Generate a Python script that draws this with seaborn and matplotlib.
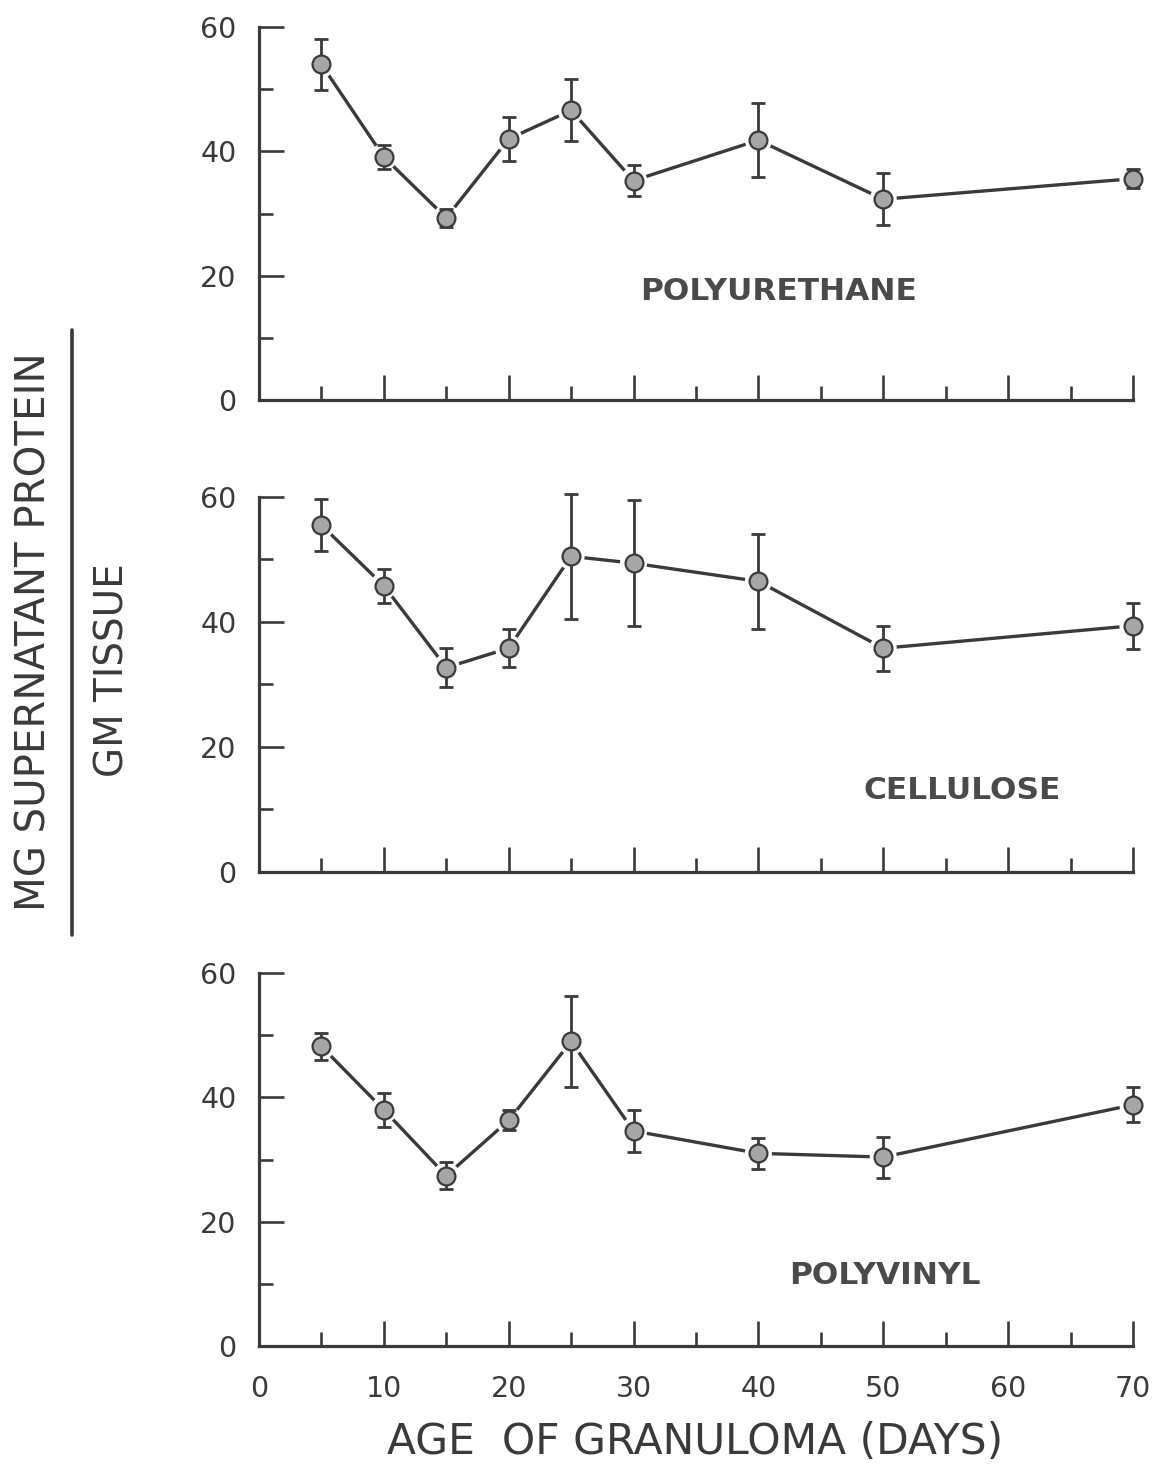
# Granuloma supernatant protein vs age - three stacked panels

import numpy as np
import pandas as pd
import matplotlib
matplotlib.use("Agg")
import matplotlib.pyplot as plt
import seaborn as sns
from matplotlib.lines import Line2D
from matplotlib.ticker import MultipleLocator

# -----------------------------------
# DATA
# -----------------------------------

days = [5, 10, 15, 20, 25, 30, 40, 50, 70]

polyurethane = [54.0, 39.1, 29.3, 42.0, 46.6, 35.3, 41.8, 32.3, 35.6]
polyurethane_err = [4.1, 2.0, 1.5, 3.5, 5.0, 2.5, 5.9, 4.2, 1.5]

cellulose = [55.5, 45.8, 32.7, 35.8, 50.5, 49.4, 46.5, 35.8, 39.4]
cellulose_err = [4.1, 2.7, 3.1, 3.0, 10.0, 10.1, 7.6, 3.6, 3.7]

polyvinyl = [48.2, 38.0, 27.4, 36.3, 49.0, 34.6, 31.0, 30.4, 38.8]
polyvinyl_err = [2.2, 2.7, 2.2, 1.6, 7.3, 3.4, 2.5, 3.3, 2.8]

materials = ["POLYURETHANE", "CELLULOSE", "POLYVINYL"]
label_pos = [(41.6, 17.4), (56.3, 13.1), (50.1, 11.4)]

x_ticks = [0, 10, 20, 30, 40, 50, 60, 70]
y_ticks = [0, 20, 40, 60]

# -----------------------------------
# STYLE
# -----------------------------------

sns.set_theme(style="ticks")
plt.rcParams['font.family'] = ['DejaVu Sans']

ink = "#3a3a3a"
fill = "#a6a6a6"

fig = plt.figure(figsize=(11.55, 14.69), dpi=100)

left, width = 0.2242, 0.7567
boxes = [
    [left, 0.7277, width, 0.2539],
    [left, 0.4064, width, 0.2553],
    [left, 0.0837, width, 0.2539],
]

series = [
    (polyurethane, polyurethane_err),
    (cellulose, cellulose_err),
    (polyvinyl, polyvinyl_err),
]

# -----------------------------------
# PANELS
# -----------------------------------

for i, (box, (vals, errs), name, pos) in enumerate(zip(boxes, series, materials, label_pos)):
    ax = fig.add_axes(box)
    df = pd.DataFrame({"day": days, "value": vals, "err": errs})

    sns.lineplot(data=df, x="day", y="value", ax=ax, color=ink, lw=2.4,
                 zorder=2, clip_on=False)
    # white ring so the line stops short of each marker
    sns.scatterplot(data=df, x="day", y="value", ax=ax, s=380, color="white",
                    edgecolor="none", zorder=3, clip_on=False)
    ax.errorbar(df["day"], df["value"], yerr=df["err"], fmt="none",
                ecolor=ink, elinewidth=2.0, capsize=4.8, capthick=2.0,
                zorder=4, clip_on=False)
    sns.scatterplot(data=df, x="day", y="value", ax=ax, s=165, color=fill,
                    edgecolor=ink, linewidth=1.6, zorder=5, clip_on=False)

    ax.text(pos[0], pos[1], name, ha="center", va="center", fontsize=22.5,
            fontweight="bold", color="#4a4a4a")

    ax.set_xlim(0, 70)
    ax.set_ylim(0, 60)
    ax.set_xticks(x_ticks)
    ax.set_yticks(y_ticks)
    ax.xaxis.set_minor_locator(MultipleLocator(5))
    ax.yaxis.set_minor_locator(MultipleLocator(10))
    ax.tick_params(which="major", direction="in", length=18, width=1.9,
                   color=ink, labelsize=20.5, labelcolor=ink)
    ax.tick_params(which="minor", direction="in", length=10, width=1.9,
                   color=ink)
    ax.tick_params(axis="y", which="major", pad=16)
    ax.tick_params(axis="x", which="major", pad=21)
    if i < 2:
        ax.tick_params(axis="x", labelbottom=False)

    sns.despine(ax=ax)
    for side in ["left", "bottom"]:
        ax.spines[side].set_linewidth(2.3)
        ax.spines[side].set_color(ink)

    ax.set_xlabel("")
    ax.set_ylabel("")
    ax.set_facecolor("white")

# -----------------------------------
# AXIS TITLES
# -----------------------------------

fig.text(0.6017, 0.0184, "AGE  OF GRANULOMA (DAYS)", ha="center", va="center",
         fontsize=30.5, color=ink)

fig.text(0.030, 0.570, "MG SUPERNATANT PROTEIN", rotation=90, ha="center",
         va="center", fontsize=29, color=ink)
fig.text(0.097, 0.544, "GM TISSUE", rotation=90, ha="center", va="center",
         fontsize=28, color=ink)
fig.add_artist(Line2D([0.0623, 0.0623], [0.3635, 0.7754], color=ink, lw=2.6,
                      transform=fig.transFigure))

fig.savefig("out.png", dpi=100, facecolor="white")
